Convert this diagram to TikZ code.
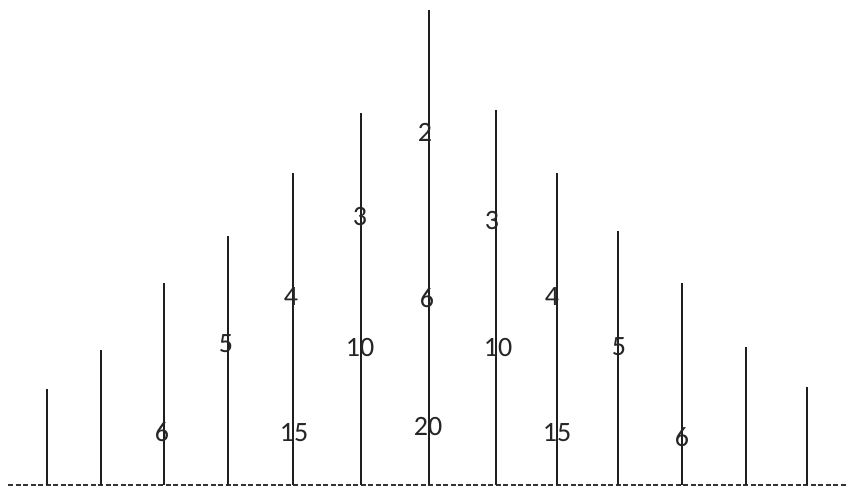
\documentclass[tikz,border=0pt]{standalone}
\usepackage{fontspec}
\setmainfont{Carlito}
\begin{document}
\begin{tikzpicture}[x=1pt,y=-1pt,
  stick/.style={line width=1.8pt,color=black!88},
  base/.style={line width=1.4pt,color=black!80,dash pattern=on 5pt off 2.5pt},
  num/.style={font=\fontsize{28}{28}\selectfont,text=black!85,inner sep=0pt}]
\useasboundingbox (0,0) rectangle (853,490);
\draw[base] (8,485) coordinate (bl) -- (846,485) coordinate (br);
\foreach \x/\t in {47/389,101/350,164/283,228/236,293/173,361/113,429/10,496/110,557/173,618/231,682/283,746/347,807/387}
  \draw[stick] (\x,\t) -- (\x,485);
\node[num] (n2) at (425,132) {2};
\node[num] (n3a) at (360,217) {3};
\node[num] (n3b) at (492,221) {3};
\node[num] (n4a) at (291,297) {4};
\node[num] (n6a) at (427,298) {6};
\node[num] (n4b) at (552,297) {4};
\node[num] (n5a) at (226,344) {5};
\node[num] (n10a) at (360,348) {10};
\node[num] (n10b) at (498,348) {10};
\node[num] (n5b) at (619,347) {5};
\node[num] (n6b) at (162,432) {6};
\node[num] (n15a) at (294,433) {15};
\node[num] (n20) at (428,427) {20};
\node[num] (n15b) at (557,433) {15};
\node[num] (n6c) at (682,437) {6};
\end{tikzpicture}
\end{document}
